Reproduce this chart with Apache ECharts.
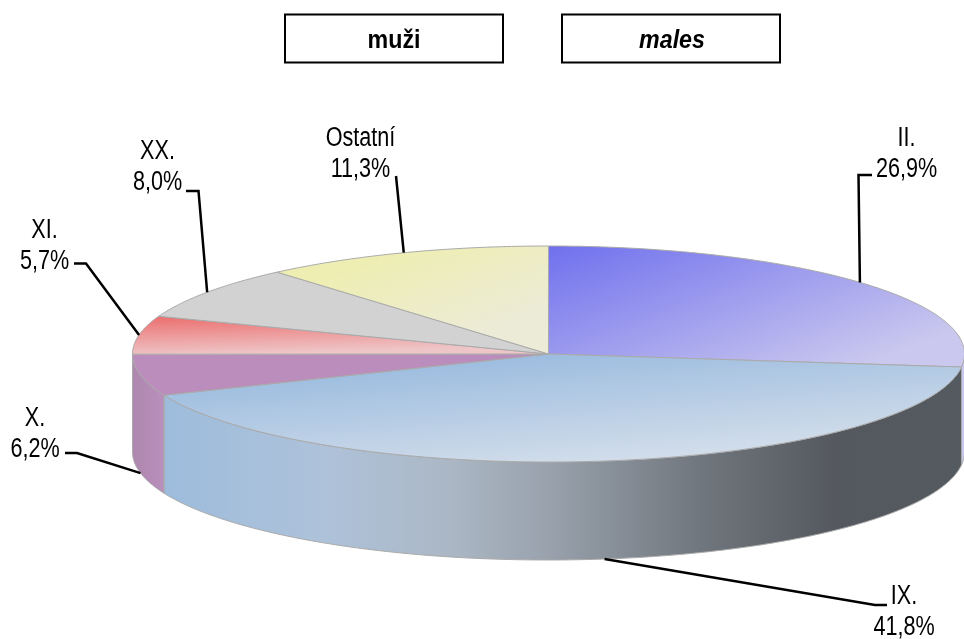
<!DOCTYPE html>
<html>
<head>
<meta charset="utf-8">
<title>muži / males</title>
<style>
  html, body { margin: 0; padding: 0; background: #fff; }
  #chart { width: 964px; height: 639px; }
</style>
</head>
<body>
<div id="chart"></div>
<script src="https://cdn.jsdelivr.net/npm/echarts@6/dist/echarts.min.js"></script>
<script>
const categories = ['II.', 'IX.', 'X.', 'XI.', 'XX.', 'Ostatní']
const shares = [26.9, 41.8, 6.2, 5.7, 8.0, 11.3]
const titles = ['muži', 'males']

// pie geometry, px
const cx = 548.5
const cy = 354
const rx = 416
const ry = 108
const depth = 98
const labelFont = '"Liberation Sans", Arial, sans-serif'

const topFills = [
  ['#7070ee', '#cac8ee', 549, 246, 626, 453],
  ['#9cbcdf', '#d0dcea', 549, 351, 558, 462],
  ['#bb8dbc', '#bb8dbc', 0, 354, 0, 400],
  ['#ec6e6e', '#eec6c8', 160, 316, 161, 356],
  ['#d2d2d2', '#d2d2d2', 0, 250, 0, 354],
  ['#eeeeb2', '#ecebd8', 400, 246, 440, 354]
]
const wallStops = [
  [[0, '#cac8ee'], [1, '#cac8ee']],
  [[0, '#9dbcdc'], [0.2, '#aec2da'], [0.36, '#abb7c5'], [0.48, '#99a2ad'], [0.68, '#6f757c'], [0.84, '#55595f'], [1, '#535a60']],
  [[0, '#ad87ae'], [1, '#b98fbc']],
  [[0, '#ad87ae'], [1, '#ad87ae']],
  [[0, '#aaa'], [1, '#aaa']],
  [[0, '#aaa'], [1, '#aaa']]
]
// [label centre x, label centre y, elbow x, elbow y, end x, end y]
const leaders = [
  [906.5, 154.5, 858.5, 175, 872, 175],
  [904, 612.5, 875, 605, 887, 605],
  [35, 434.5, 77, 453, 65, 453],
  [44.5, 246, 86, 263.5, 74, 263.5],
  [157.5, 167.5, 198.5, 191, 186, 191],
  [360.5, 154.5, 396, 176, 396, 176]
]

const total = shares.reduce((a, b) => a + b, 0)
const fmt = (v) => v.toFixed(1).replace('.', ',') + '%'

// angle is clockwise from 12 o'clock
function pt(t, dy) {
  return [cx + rx * Math.sin(t), cy - ry * Math.cos(t) + (dy || 0)]
}

function arc(a, b, dy) {
  const n = Math.max(2, Math.ceil(Math.abs(b - a) / 0.01))
  const pts = []
  for (let i = 0; i <= n; i++) {
    pts.push(pt(a + (b - a) * i / n, dy))
  }
  return pts
}

function sliceAngles(i) {
  let before = 0
  for (let k = 0; k < i; k++) before += shares[k]
  return [before / total * Math.PI * 2, (before + shares[i]) / total * Math.PI * 2]
}

function renderSlice(params, api) {
  const i = params.dataIndex
  const [a, b] = sliceAngles(i)
  const children = []

  // side wall, only the front half of the disc shows
  const fa = Math.max(a, Math.PI / 2)
  const fb = Math.min(b, Math.PI * 1.5)
  if (fb > fa) {
    const wall = arc(fa, fb).concat(arc(fa, fb, depth).reverse())
    const stops = wallStops[i].map((s) => ({ offset: s[0], color: s[1] }))
    children.push({
      type: 'polygon',
      shape: { points: wall },
      style: {
        fill: new echarts.graphic.LinearGradient(pt(fb)[0], 0, pt(fa)[0], 0, stops, true),
        stroke: '#aaa',
        lineWidth: 1
      }
    })
  }

  const f = topFills[i]
  children.push({
    type: 'polygon',
    shape: { points: [[cx, cy]].concat(arc(a, b)) },
    style: {
      fill: new echarts.graphic.LinearGradient(f[2], f[3], f[4], f[5], [
        { offset: 0, color: f[0] },
        { offset: 1, color: f[1] }
      ], true),
      stroke: '#aaa',
      lineWidth: 1
    }
  })
  return { type: 'group', children }
}

// leaders and labels sit in their own series so the next slice can't cover them
function renderLabel(params, api) {
  const i = params.dataIndex
  const [a, b] = sliceAngles(i)
  const mid = (a + b) / 2
  const onWall = i === 1 || i === 2
  const start = pt(mid, onWall ? depth : 0)
  const l = leaders[i]
  return {
    type: 'group',
    children: [{
      type: 'polyline',
      shape: { points: [start, [l[2], l[3]], [l[4], l[5]]] },
      style: { fill: 'none', stroke: '#000', lineWidth: 2.5 }
    }, {
      type: 'text',
      x: l[0],
      y: l[1],
      scaleX: 0.8, // no narrow face installed, squeeze the regular one
      style: {
        text: categories[i] + '\n' + fmt(api.value(1)),
        align: 'center',
        verticalAlign: 'middle',
        fontFamily: labelFont,
        fontSize: 27,
        lineHeight: 31,
        fill: '#000'
      }
    }]
  }
}

const rows = shares.map((v, i) => [i, v])

const chart = echarts.init(document.getElementById('chart'), null, { renderer: 'canvas' })
chart.setOption({
  animation: false,
  backgroundColor: '#fff',
  graphic: [
    { type: 'rect', shape: { x: 285, y: 14.5, width: 218, height: 48 }, style: { fill: '#fff', stroke: '#000', lineWidth: 2 } },
    { type: 'rect', shape: { x: 562, y: 14.5, width: 218, height: 48 }, style: { fill: '#fff', stroke: '#000', lineWidth: 2 } },
    { type: 'text', x: 394, y: 41, scaleX: 0.93, style: { text: titles[0], align: 'center', verticalAlign: 'middle', font: 'bold 25px "Liberation Sans", sans-serif', fill: '#000' } },
    { type: 'text', x: 672, y: 41, scaleX: 0.93, style: { text: titles[1], align: 'center', verticalAlign: 'middle', font: 'italic bold 25px "Liberation Sans", sans-serif', fill: '#000' } }
  ],
  series: [
    { type: 'custom', coordinateSystem: 'none', silent: true, clip: false, data: rows, renderItem: renderSlice, z: 1 },
    { type: 'custom', coordinateSystem: 'none', silent: true, clip: false, data: rows, renderItem: renderLabel, z: 2 }
  ]
})
</script>
</body>
</html>
